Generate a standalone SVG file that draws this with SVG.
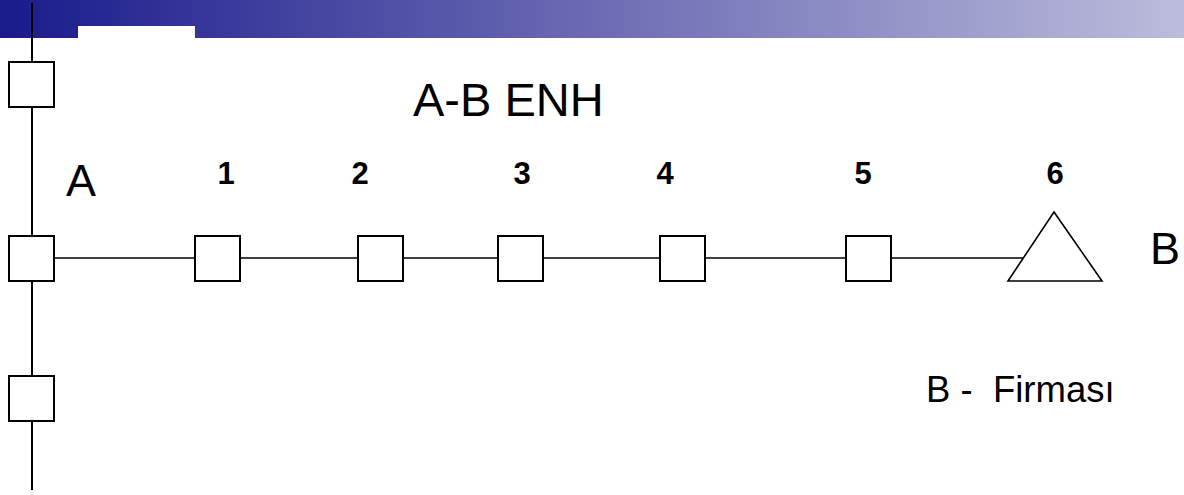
<svg xmlns="http://www.w3.org/2000/svg" width="1184" height="495" viewBox="0 0 1184 495">
<defs>
<linearGradient id="bar" x1="0" y1="0" x2="1" y2="0">
<stop offset="0" stop-color="#1a1a8c"/>
<stop offset="1" stop-color="#bcbcdc"/>
</linearGradient>
<style>
.box{fill:#fff;stroke:#000;stroke-width:2}
.wire{stroke:#000;fill:none}
.t{font-family:"Liberation Sans",Arial,sans-serif;fill:#000}
.num{font-family:"Liberation Sans",Arial,sans-serif;font-weight:bold;font-size:31px;text-anchor:middle;fill:#000}
</style>
</defs>
<rect width="1184" height="495" fill="#fff"/>
<rect x="0" y="0" width="1184" height="38" fill="url(#bar)"/>
<rect x="78" y="26" width="117" height="12" fill="#fff"/>
<g id="connectors">
<line class="wire" x1="32" y1="3" x2="32" y2="490" stroke-width="2"/>
<line class="wire" x1="54" y1="258" x2="1023" y2="258" stroke-width="1.6"/>
</g>
<g id="node-top"><rect class="box" x="9" y="62" width="45" height="45"/></g>
<g id="node-A"><rect class="box" x="9" y="236" width="45" height="45"/></g>
<g id="node-bottom"><rect class="box" x="9" y="376" width="45" height="45"/></g>
<g id="node-1"><rect class="box" x="195" y="236" width="45" height="45"/></g>
<g id="node-2"><rect class="box" x="358" y="236" width="45" height="45"/></g>
<g id="node-3"><rect class="box" x="498" y="236" width="45" height="45"/></g>
<g id="node-4"><rect class="box" x="660" y="236" width="45" height="45"/></g>
<g id="node-5"><rect class="box" x="846" y="236" width="45" height="45"/></g>
<g id="node-6"><polygon points="1054,212 1008,281 1102,281" fill="#fff" stroke="#000" stroke-width="1.6"/></g>
<g id="labels">
<text class="t" x="413" y="116" font-size="47">A-B ENH</text>
<text class="t" x="66" y="196" font-size="45">A</text>
<text class="t" x="1150" y="264" font-size="45">B</text>
<text class="t" x="926" y="402" font-size="36.5" xml:space="preserve">B -  Firması</text>
<text class="num" x="226" y="184">1</text>
<text class="num" x="360" y="184">2</text>
<text class="num" x="522" y="184">3</text>
<text class="num" x="665" y="184">4</text>
<text class="num" x="863" y="184">5</text>
<text class="num" x="1055" y="184">6</text>
</g>
</svg>
